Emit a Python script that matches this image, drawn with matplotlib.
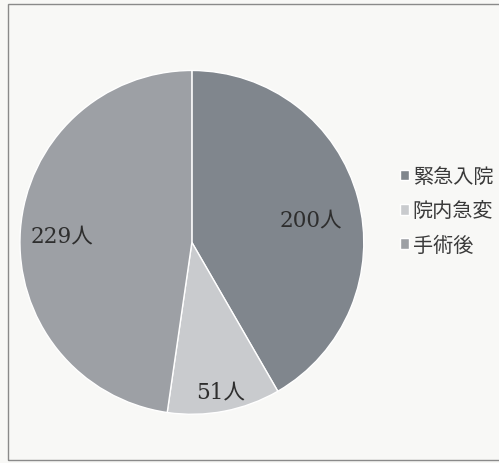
import numpy as np
import matplotlib.pyplot as plt
from matplotlib.patches import Rectangle

plt.rcParams['font.family'] = ['DejaVu Serif', 'Noto Sans CJK JP']

categories = ["緊急入院", "院内急変", "手術後"]
counts = [200, 51, 229]
value_labels = ["200人", "51人", "229人"]

colors = ["#80868d", "#c9cbce", "#9da0a5"]
label_dist = [0.71, 0.87, 0.76]
label_turn = [-3, 0, 0]

fig = plt.figure(figsize=(4.99, 4.64), dpi=100)
fig.patch.set_facecolor("#f8f8f6")
fig.patches.append(Rectangle((0.016, 0.006), 1.0, 0.983, transform=fig.transFigure,
                             fill=False, edgecolor="#8a8a8a", linewidth=1.0))

ax = fig.add_axes([0.040, 0.105, 0.689, 0.741])
wedges, _ = ax.pie(counts, colors=colors, startangle=90, counterclock=False,
                   wedgeprops=dict(edgecolor="white", linewidth=1.0))
ax.set_xlim(-1, 1)
ax.set_ylim(-1, 1)
ax.set_aspect("equal")

for w, txt, d, t in zip(wedges, value_labels, label_dist, label_turn):
    ang = np.deg2rad((w.theta1 + w.theta2) / 2 + t)
    ax.text(d * np.cos(ang), d * np.sin(ang), txt, ha="center", va="center_baseline",
            fontsize=15.5, color="#2e2e2e")

leg = fig.legend(wedges, categories, loc="upper left", bbox_to_anchor=(0.785, 0.655),
                 frameon=False, fontsize=14.5, handlelength=0.45, handleheight=0.45,
                 handletextpad=0.2, labelspacing=0.75, borderaxespad=0)
for t in leg.get_texts():
    t.set_color("#3a3a3a")

fig.savefig("out.png", dpi=100, facecolor=fig.get_facecolor())
